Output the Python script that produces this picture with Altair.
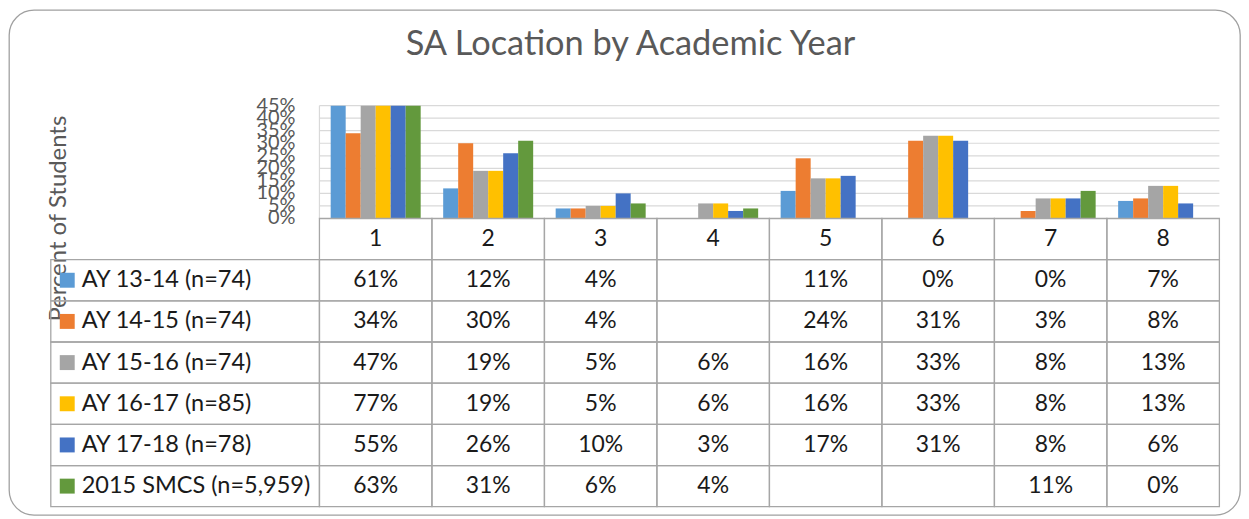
import altair as alt
import pandas as pd

# ---------------- data ----------------
title_text = "SA Location by Academic Year"
y_title = "Percent of Students"
categories = ["1", "2", "3", "4", "5", "6", "7", "8"]
series = ["AY 13-14 (n=74)", "AY 14-15 (n=74)", "AY 15-16 (n=74)",
          "AY 16-17 (n=85)", "AY 17-18 (n=78)", "2015 SMCS (n=5,959)"]
colors = ["#5B9BD5", "#ED7D31", "#A5A5A5", "#FFC000", "#4472C4", "#63993D"]
ay_13_14 = [61, 12, 4, None, 11, 0, 0, 7]
ay_14_15 = [34, 30, 4, None, 24, 31, 3, 8]
ay_15_16 = [47, 19, 5, 6, 16, 33, 8, 13]
ay_16_17 = [77, 19, 5, 6, 16, 33, 8, 13]
ay_17_18 = [55, 26, 10, 3, 17, 31, 8, 6]
smcs_2015 = [63, 31, 6, 4, None, None, 11, 0]
values = [ay_13_14, ay_14_15, ay_15_16, ay_16_17, ay_17_18, smcs_2015]
y_ticks = [0, 5, 10, 15, 20, 25, 30, 35, 40, 45]

# ---------------- layout ----------------
W, H = 1236, 507
UNIT = 112.95            # px per category column
COL0 = 311.7             # px of first category column
LEG = 2.388              # legend column width in column units
x_domain = [-COL0 / UNIT, (W - COL0) / UNIT]
bar_range = [209.3, 96.0]
table_range = [209.3, 498.7]
n_cat = len(categories)
n_ser = len(series)
group_pad = 0.1
bw = (1 - 2 * group_pad) / n_ser
HDR = "__header__"
rows_domain = [HDR] + series

FONT = "Lato"
LINE = "#a6a6a6"

# ---------------- tables ----------------
recs = []
for si, (name, vals) in enumerate(zip(series, values)):
    for ci, (cat, v) in enumerate(zip(categories, vals)):
        x0 = ci + group_pad + si * bw
        recs.append(dict(series=name, cat=cat, pct=v, x0=x0, x1=x0 + bw,
                         row=name, cx=ci + 0.5,
                         label=("" if v is None else f"{v}%")))
df = pd.DataFrame(recs)

grid_df = pd.DataFrame({"v": y_ticks[1:], "x0": 0, "x1": n_cat})
axis_df = pd.DataFrame({"x0": [0], "y0": [0], "y1": [y_ticks[-1]]})
tick_df = pd.DataFrame({"v": y_ticks, "x0": 0, "label": [f"{t}%" for t in y_ticks]})

cells = []
for r in rows_domain:
    for ci in range(-1, n_cat):
        if r == HDR and ci == -1:
            continue
        if ci == -1:
            cells.append(dict(row=r, x0=-LEG, x1=0))
        else:
            cells.append(dict(row=r, x0=ci, x1=ci + 1))
cells_df = pd.DataFrame(cells)
hdr_df = pd.DataFrame({"row": HDR, "cx": [i + 0.5 for i in range(n_cat)], "label": categories})
leg_df = pd.DataFrame({"row": series, "series": series, "lx": -LEG})

# ---------------- scales ----------------
xs = alt.Scale(domain=x_domain, nice=False, zero=False)
ys = alt.Scale(domain=[0, 45], range=bar_range, clamp=True, nice=False, zero=True)
yt = alt.Scale(domain=rows_domain, range=table_range, paddingInner=0, paddingOuter=0)
cs = alt.Scale(domain=series, range=colors)

y_axis = alt.Axis(title=y_title, labels=False, ticks=False, domain=False, grid=False,
                  titleX=57, titleY=209, titleAngle=270, titleAlign="center",
                  titleBaseline="alphabetic", titleFont=FONT, titleFontSize=24,
                  titleFontWeight="normal", titleColor="#595959")


def X(f):
    return alt.X(f"{f}:Q", scale=xs, axis=None)


def YB(f):
    return alt.Y(f"{f}:Q", scale=ys, axis=y_axis)


YT = alt.Y("row:N", scale=yt, axis=None, sort=rows_domain)

# ---------------- bar area ----------------
grid = alt.Chart(grid_df).mark_rule(color="#d9d9d9", strokeWidth=1.2).encode(
    x=X("x0"), x2="x1", y=YB("v"))
left_line = alt.Chart(axis_df).mark_rule(color="#d9d9d9", strokeWidth=1.2).encode(
    x=X("x0"), y=YB("y0"), y2="y1")
bars = alt.Chart(df).transform_filter("isValid(datum.pct)").mark_bar().encode(
    x=X("x0"), x2="x1", y=YB("pct"), y2=alt.Y2(datum=0),
    color=alt.Color("series:N", scale=cs, legend=None))
ticks = alt.Chart(tick_df).mark_text(align="right", baseline="middle", dx=-24,
                                     font=FONT, fontSize=20, color="#595959").encode(
    x=X("x0"), y=YB("v"), text="label:N")
bar_group = alt.layer(grid, left_line, bars, ticks)

# ---------------- data table ----------------
cell_rects = alt.Chart(cells_df).mark_rect(fillOpacity=0, stroke=LINE, strokeWidth=1.3).encode(
    x=X("x0"), x2="x1", y=YT)
hdr_text = alt.Chart(hdr_df).mark_text(align="center", baseline="middle", font=FONT,
                                       fontSize=23, color="#1a1a1a").encode(
    x=X("cx"), y=YT, text="label:N")
cell_text = alt.Chart(df).mark_text(align="center", baseline="middle", font=FONT,
                                    fontSize=23, color="#1a1a1a").encode(
    x=X("cx"), y=YT, text="label:N")
swatches = alt.Chart(leg_df).mark_square(size=225, opacity=1, xOffset=16.5).encode(
    x=X("lx"), y=YT, color=alt.Color("series:N", scale=cs, legend=None))
leg_text = alt.Chart(leg_df).mark_text(align="left", baseline="middle", dx=31, font=FONT,
                                       fontSize=23.6, color="#1a1a1a").encode(
    x=X("lx"), y=YT, text="series:N")
table_group = alt.layer(cell_rects, hdr_text, cell_text, swatches, leg_text)

chart = alt.layer(bar_group, table_group).resolve_scale(y="independent").properties(
    width=W, height=H, padding=1, autosize="none",
    view=alt.ViewBackground(stroke="#a0a0a0", strokeWidth=1.3, cornerRadius=25, fill="white"),
    title=alt.TitleParams(title_text, font=FONT, fontSize=34.5, fontWeight="normal",
                          color="#595959", anchor="middle", frame="group",
                          offset=-47, baseline="alphabetic", dx=6, dy=33),
).configure(background="white")

chart.save("out.html", embed_options={"renderer": "svg", "actions": False})
